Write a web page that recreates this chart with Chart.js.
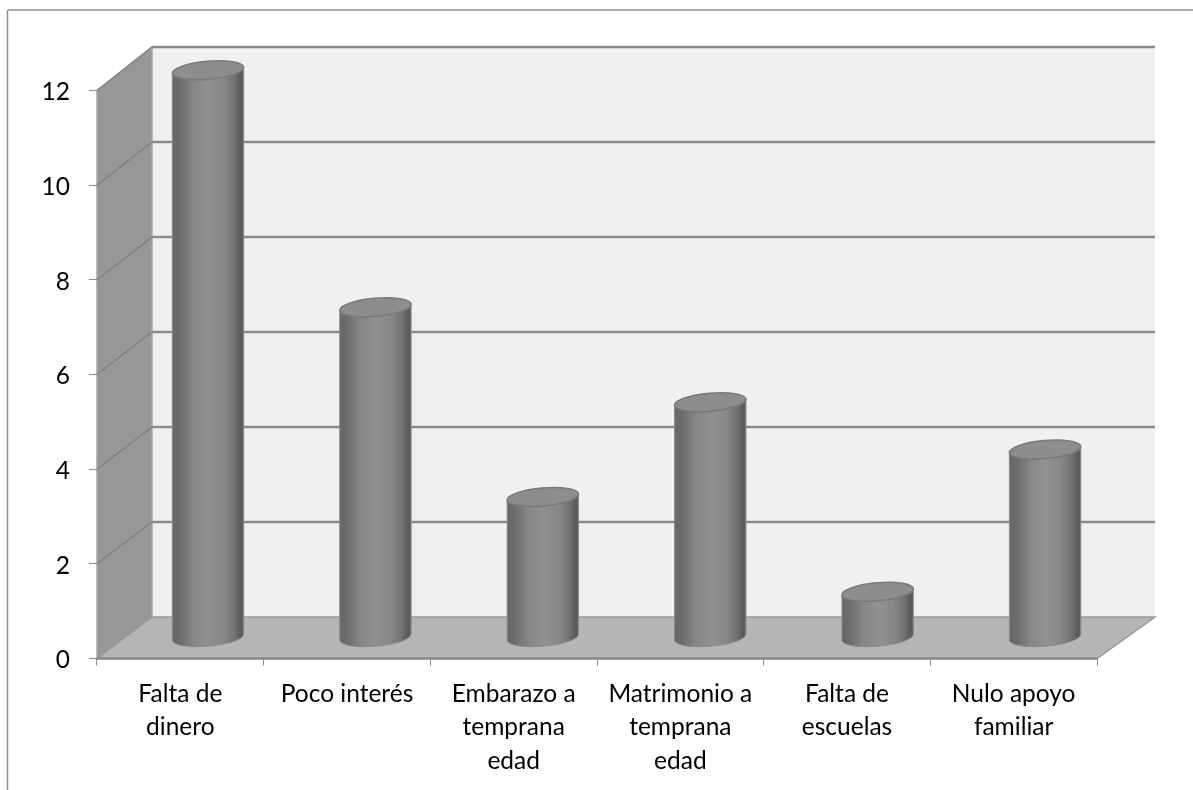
<!DOCTYPE html>
<html>

<head>
    <meta charset="UTF-8">
    <title>Cilindros</title>
    <script src="https://cdn.jsdelivr.net/npm/chart.js"></script>
    <style>
        body {
            margin: 0;
            background: white;
        }

        canvas {
            display: block;
        }
    </style>
</head>

<body>
    <canvas id="myChart" width="1193" height="790"></canvas>
    <script>
        const categories = [
            ['Falta de', 'dinero'],
            'Poco interés',
            ['Embarazo a', 'temprana', 'edad'],
            ['Matrimonio a', 'temprana', 'edad'],
            ['Falta de', 'escuelas'],
            ['Nulo apoyo', 'familiar']
        ];
        const values = [12, 7, 3, 5, 1, 4];
        const yTicks = [0, 2, 4, 6, 8, 10, 12];

        const lineGrey = '#8a8a8a';

        // the back wall is the front plane pushed back into the picture
        function backX(x) { return 152 + (x - 97) * 1.003; }
        function backY(y) { return 617 + (y - 658.5) * 1.0035; }

        function poly(ctx, pts, fill, stroke, lw) {
            ctx.beginPath();
            pts.forEach(function (p, i) {
                if (i == 0) ctx.moveTo(p[0], p[1]);
                else ctx.lineTo(p[0], p[1]);
            });
            ctx.closePath();
            ctx.fillStyle = fill;
            ctx.fill();
            ctx.strokeStyle = stroke;
            ctx.lineWidth = lw;
            ctx.stroke();
        }

        function line(ctx, x1, y1, x2, y2, color, lw) {
            ctx.beginPath();
            ctx.moveTo(x1, y1);
            ctx.lineTo(x2, y2);
            ctx.strokeStyle = color;
            ctx.lineWidth = lw;
            ctx.stroke();
        }

        const walls = {
            id: 'walls',
            beforeDraw: function (chart) {
                const ctx = chart.ctx;
                const a = chart.chartArea;
                const y = chart.scales.y;
                ctx.save();

                // page frame: only top and left are visible
                line(ctx, 7.5, 790, 7.5, 10, '#8f8f8f', 1.5);
                line(ctx, 7.5, 10, 1193, 10, '#8f8f8f', 1.5);

                // back wall
                ctx.fillStyle = '#f0f0f0';
                ctx.fillRect(backX(a.left), backY(a.top), backX(a.right) - backX(a.left), backY(a.bottom) - backY(a.top));

                // left wall
                poly(ctx, [[a.left, a.top], [backX(a.left), backY(a.top)], [backX(a.left), backY(a.bottom)], [a.left, a.bottom]],
                    '#979797', '#a6a6a6', 1.5);

                // floor
                poly(ctx, [[a.left, a.bottom], [backX(a.left), backY(a.bottom)], [backX(a.right), backY(a.bottom)], [a.right, a.bottom]],
                    '#b5b5b5', '#989898', 1.5);
                line(ctx, a.left, a.bottom, a.right, a.bottom, '#8a8a8a', 2.5);

                // grid lines, on the side wall and on the back wall
                yTicks.forEach(function (t) {
                    const py = y.getPixelForValue(t);
                    if (t > 0) {
                        line(ctx, a.left, py, backX(a.left), backY(py), '#808080', 1.5);
                        line(ctx, backX(a.left), backY(py), backX(a.right), backY(py), lineGrey, 2.5);
                    }
                });
                ctx.restore();
            }
        };

        const cylinders = {
            id: 'cylinders',
            afterDatasetsDraw: function (chart) {
                const ctx = chart.ctx;
                const meta = chart.getDatasetMeta(0);
                const tilt = -5 * Math.PI / 180;
                ctx.save();
                meta.data.forEach(function (bar) {
                    // bars stand halfway between the front plane and the back wall
                    const cx = 208 + (bar.x - meta.data[0].x) * 1.0045;
                    const top = (bar.y + backY(bar.y)) / 2 + 1.5;
                    const base = (bar.base + backY(bar.base)) / 2;
                    const rx = bar.width / 2;
                    const ry = 9;
                    const dx = rx * Math.cos(tilt);
                    const dy = rx * Math.sin(tilt);

                    const g = ctx.createLinearGradient(cx - dx, 0, cx + dx, 0);
                    g.addColorStop(0, '#666666');
                    g.addColorStop(0.12, '#6e6e6e');
                    g.addColorStop(0.3, '#878787');
                    g.addColorStop(0.5, '#919191');
                    g.addColorStop(0.72, '#888888');
                    g.addColorStop(0.87, '#727272');
                    g.addColorStop(0.96, '#5a5a5a');
                    g.addColorStop(1, '#626262');

                    ctx.beginPath();
                    ctx.moveTo(cx - dx, top - dy);
                    ctx.lineTo(cx - dx, base - dy);
                    ctx.ellipse(cx, base, rx, ry, tilt, Math.PI, 0, true);
                    ctx.lineTo(cx + dx, top + dy);
                    ctx.closePath();
                    ctx.fillStyle = g;
                    ctx.fill();
                    ctx.strokeStyle = '#8c8c8c';
                    ctx.lineWidth = 1;
                    ctx.stroke();

                    ctx.beginPath();
                    ctx.ellipse(cx, top, rx, ry, tilt, 0, Math.PI * 2);
                    ctx.fillStyle = '#8d8d8d';
                    ctx.fill();
                    ctx.strokeStyle = '#7a7a7a';
                    ctx.lineWidth = 1.5;
                    ctx.stroke();
                });
                ctx.restore();
            }
        };

        const ctx = document.getElementById('myChart');
        const myChart = new Chart(ctx, {
            type: 'bar',
            data: {
                labels: categories,
                datasets: [{
                    data: values,
                    backgroundColor: 'transparent',
                    borderWidth: 0,
                    categoryPercentage: 1,
                    barPercentage: 0.43
                }]
            },
            plugins: [walls, cylinders],
            options: {
                responsive: false,
                animation: false,
                layout: {
                    padding: { top: 90.5, right: 96, left: 0, bottom: 0 }
                },
                plugins: {
                    legend: { display: false },
                    title: { display: false }
                },
                scales: {
                    x: {
                        grid: { drawOnChartArea: false, color: lineGrey, tickLength: 7 },
                        border: { display: false },
                        ticks: {
                            autoSkip: false,
                            maxRotation: 0,
                            minRotation: 0,
                            padding: 12,
                            color: '#000000',
                            font: { family: 'Lato', size: 24.5, lineHeight: 1.36 }
                        },
                        afterFit: function (s) {
                            s.height = 131.5;
                            s.paddingLeft = 0;
                            s.paddingRight = 0;
                        }
                    },
                    y: {
                        min: 0,
                        max: 12,
                        grid: { drawOnChartArea: false, color: lineGrey, tickLength: 8 },
                        border: { display: false },
                        ticks: {
                            stepSize: 2,
                            padding: 19,
                            labelOffset: 2,
                            color: '#000000',
                            font: { family: 'Lato', size: 24.5 }
                        },
                        afterFit: function (s) {
                            s.width = 97;
                        }
                    }
                }
            }
        });
    </script>
</body>

</html>
